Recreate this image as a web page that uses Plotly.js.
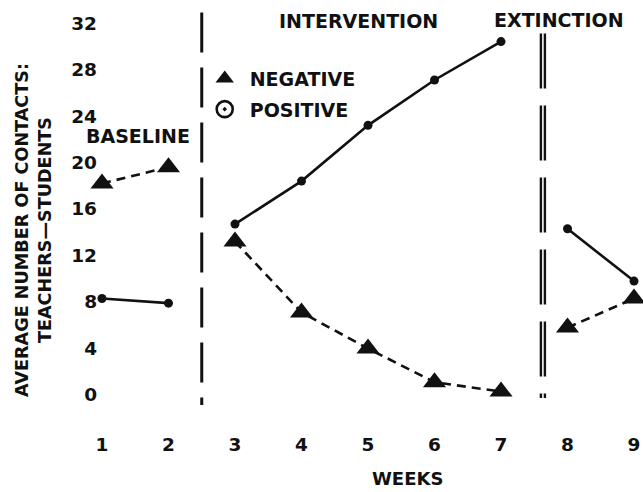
<!DOCTYPE html>
<html>
<head>
<meta charset="utf-8">
<script src="https://cdn.plot.ly/plotly-3.0.1.min.js"></script>
<style>
  html, body { margin: 0; padding: 0; background: #ffffff; }
  #chart { width: 643px; height: 492px; }
</style>
</head>
<body>
<div id="chart"></div>
<script>
// ---- data ----
const baselineWeeks = [1, 2];
const interventionWeeks = [3, 4, 5, 6, 7];
const extinctionWeeks = [8, 9];

const negativeBaseline = [18.2, 19.6];
const negativeIntervention = [13.2, 7.1, 4.0, 1.1, 0.3];
const negativeExtinction = [5.8, 8.3];

const positiveBaseline = [8.3, 7.9];
const positiveIntervention = [14.7, 18.4, 23.2, 27.1, 30.4];
const positiveExtinction = [14.3, 9.8];

const weekTicks = [1, 2, 3, 4, 5, 6, 7, 8, 9];
const contactTicks = [0, 4, 8, 12, 16, 20, 24, 28, 32];
const phaseLabels = ['BASELINE', 'INTERVENTION', 'EXTINCTION'];
const seriesNames = ['NEGATIVE', 'POSITIVE'];
const xTitle = 'WEEKS';
const yTitle = 'AVERAGE NUMBER OF CONTACTS:<br>TEACHERS\u2014STUDENTS';

// ---- styling ----
const FONT = 'DejaVu Sans, Arial, sans-serif';
const INK = '#111111';

function negTrace(x, y) {
  return {
    x: x, y: y, type: 'scatter', mode: 'lines+markers', showlegend: false,
    cliponaxis: false, hoverinfo: 'skip',
    line: { color: INK, width: 2.6, dash: '9px,6px' },
    marker: { symbol: 'triangle-up', size: 20, color: INK }
  };
}
function posTrace(x, y) {
  return {
    x: x, y: y, type: 'scatter', mode: 'lines+markers', showlegend: false,
    cliponaxis: false, hoverinfo: 'skip',
    line: { color: INK, width: 2.6 },
    marker: { symbol: 'circle', size: 9, color: INK }
  };
}

const traces = [
  negTrace(baselineWeeks, negativeBaseline),
  negTrace(interventionWeeks, negativeIntervention),
  negTrace(extinctionWeeks, negativeExtinction),
  posTrace(baselineWeeks, positiveBaseline),
  posTrace(interventionWeeks, positiveIntervention),
  posTrace(extinctionWeeks, positiveExtinction),
  // legend entries
  { x: [null], y: [null], type: 'scatter', mode: 'markers', name: seriesNames[0], showlegend: true,
    legendgroup: 'neg', marker: { symbol: 'triangle-up', size: 24, color: INK } },
  { x: [null], y: [null], type: 'scatter', mode: 'markers', name: seriesNames[1], showlegend: true,
    legendgroup: 'pos',
    marker: { symbol: 'circle-open-dot', size: 16, color: INK, line: { color: INK, width: 2.6 } } }
];

const boldFont = (s) => ({ family: FONT, size: s, color: INK, weight: 'bold' });

const layout = {
  width: 643, height: 492,
  paper_bgcolor: '#ffffff', plot_bgcolor: '#ffffff',
  margin: { l: 100, r: 4, t: 10, b: 82 },
  showlegend: true,
  legend: {
    x: 0.185, y: 0.876, xanchor: 'left', yanchor: 'top',
    bgcolor: 'rgba(0,0,0,0)', borderwidth: 0,
    font: boldFont(19), itemsizing: 'trace', itemwidth: 40, tracegroupgap: 3
  },
  xaxis: {
    range: [0.97, 9.075], showgrid: false, zeroline: false, showline: false,
    tickmode: 'array', tickvals: weekTicks, ticktext: weekTicks.map(String),
    ticks: '', ticklabelstandoff: 21, tickfont: boldFont(18.5), fixedrange: true
  },
  yaxis: {
    range: [-1.29, 33.12], showgrid: false, zeroline: false, showline: false,
    tickmode: 'array', tickvals: contactTicks, ticktext: contactTicks.map(String),
    ticks: '', ticklabelstandoff: 2, tickfont: boldFont(18.5), fixedrange: true
  },
  shapes: [
    { type: 'line', xref: 'x', yref: 'y', x0: 2.5, x1: 2.5, y0: 32.9, y1: -0.86,
      line: { color: INK, width: 3, dash: '40px,15px' } },
    { type: 'line', xref: 'x', yref: 'y', x0: 7.6, x1: 7.6, y0: 31.1, y1: -0.26,
      line: { color: INK, width: 2.4, dash: '55px,17px' } },
    { type: 'line', xref: 'x', yref: 'y', x0: 7.66, x1: 7.66, y0: 31.1, y1: -0.26,
      line: { color: INK, width: 2.4, dash: '55px,17px' } }
  ],
  annotations: [
    { text: phaseLabels[0], xref: 'paper', yref: 'paper', x: 0.0705, y: 0.685,
      xanchor: 'center', yanchor: 'middle', showarrow: false, font: boldFont(19) },
    { text: phaseLabels[1], xref: 'paper', yref: 'paper', x: 0.4787, y: 0.9725,
      xanchor: 'center', yanchor: 'middle', showarrow: false, font: boldFont(19) },
    { text: phaseLabels[2], xref: 'paper', yref: 'paper', x: 0.8516, y: 0.975,
      xanchor: 'center', yanchor: 'middle', showarrow: false, font: boldFont(19) },
    { text: xTitle, xref: 'paper', yref: 'paper', x: 0.5696, y: -0.1725,
      xanchor: 'center', yanchor: 'middle', showarrow: false, font: boldFont(18), borderpad: 0 },
    { text: yTitle, xref: 'paper', yref: 'paper', x: -0.1243, y: 0.45, textangle: -90,
      xanchor: 'center', yanchor: 'middle', showarrow: false, font: boldFont(17.6) }
  ]
};

Plotly.newPlot('chart', traces, layout, { displayModeBar: false, staticPlot: true });
</script>
</body>
</html>
